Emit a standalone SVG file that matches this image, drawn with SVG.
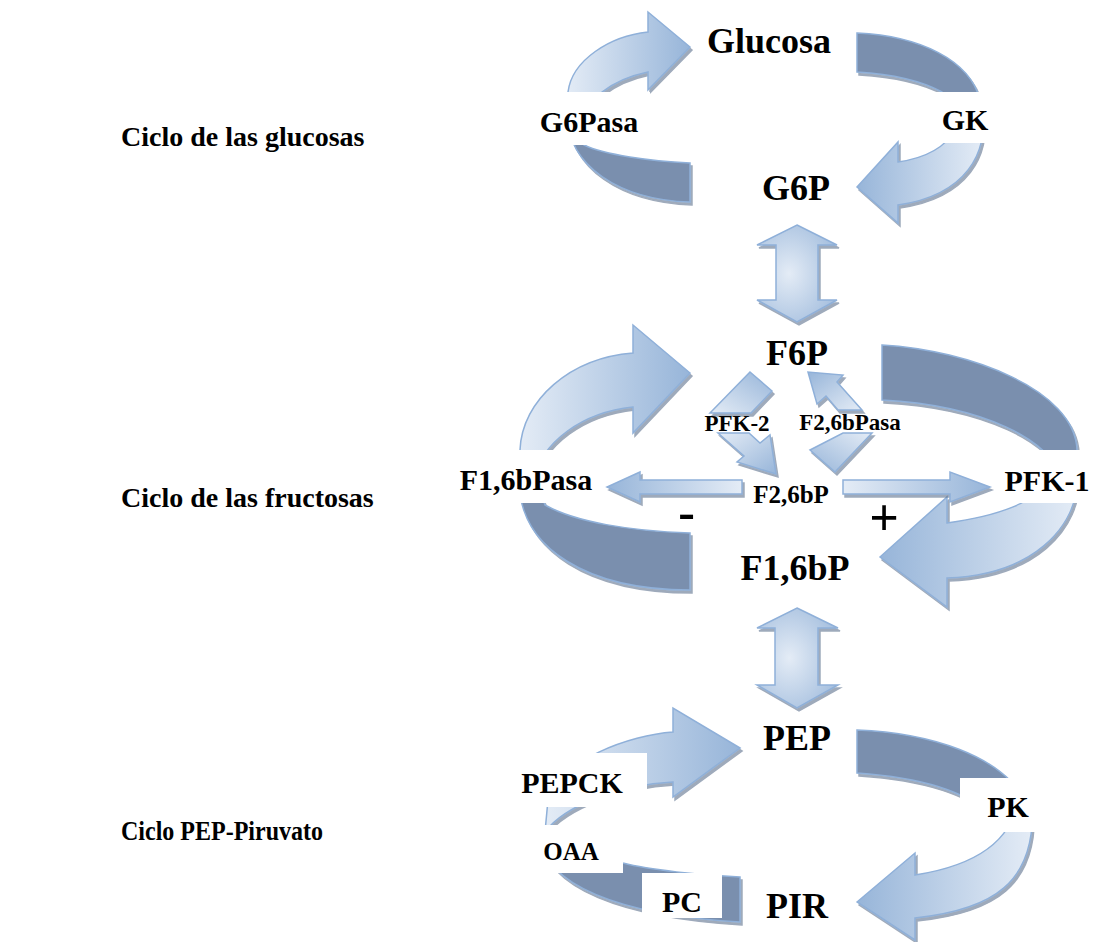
<svg xmlns="http://www.w3.org/2000/svg" width="1096" height="942" viewBox="0 0 1096 942">
<defs>
<linearGradient id="gR" x1="0" y1="0.5" x2="1" y2="0.5"><stop offset="0" stop-color="#e4ecf6"/><stop offset="1" stop-color="#97b5d9"/></linearGradient>
<linearGradient id="gL" x1="1" y1="0.5" x2="0" y2="0.5"><stop offset="0" stop-color="#e4ecf6"/><stop offset="1" stop-color="#97b5d9"/></linearGradient>
<linearGradient id="gDR" x1="0" y1="0" x2="1" y2="1"><stop offset="0" stop-color="#e4ecf6"/><stop offset="1" stop-color="#97b5d9"/></linearGradient>
<linearGradient id="gUL" x1="1" y1="1" x2="0" y2="0"><stop offset="0" stop-color="#e4ecf6"/><stop offset="1" stop-color="#97b5d9"/></linearGradient>
<linearGradient id="gDL" x1="1" y1="0" x2="0" y2="1"><stop offset="0" stop-color="#e4ecf6"/><stop offset="1" stop-color="#97b5d9"/></linearGradient>
<linearGradient id="gUR" x1="0" y1="1" x2="1" y2="0"><stop offset="0" stop-color="#e4ecf6"/><stop offset="1" stop-color="#97b5d9"/></linearGradient>
<radialGradient id="gRad" cx="0.4" cy="0.5" r="0.75"><stop offset="0" stop-color="#e4ecf6"/><stop offset="1" stop-color="#9ab7da"/></radialGradient>
<filter id="sh" x="-10%" y="-10%" width="130%" height="130%"><feDropShadow dx="2" dy="3" stdDeviation="0.7" flood-color="#4f6383" flood-opacity="0.55"/></filter>
</defs>
<style>
.a{stroke:#8fb0d9;stroke-width:1.5;stroke-linejoin:miter;filter:url(#sh)}
.d{fill:#7a8fae}
.box{fill:#ffffff}
text{font-family:"Liberation Serif","Times New Roman",serif;font-weight:bold;fill:#000}
.big{font-size:36px}
.lab{font-size:30px}
.sm{font-size:23px}
.side{font-size:28px}
</style>
<rect width="1096" height="942" fill="#ffffff"/>
<g id="connectors">
<!-- top cycle -->
<path class="a d" d="M568,115 C566,165 620,200 690,202 L690,163 C650,161 605,155 584,145 L580,115 Z"/>
<path class="a" fill="url(#gR)" d="M690,47 L648,12 L648,32 C610,36 572,60 568,92 L566,125 L580,125 C586,100 610,80 648,72 L648,90 Z"/>
<path class="a d" d="M857,33 C920,36 970,60 980,100 L982,125 L955,125 L942,92 C920,80 890,74 857,72 Z"/>
<path class="a" fill="url(#gL)" d="M857,187 L898,142 L898,162 C925,158 945,148 955,130 L960,115 L982,115 C988,150 968,195 898,205 L898,223 Z"/>
<!-- G6P <-> F6P -->
<path class="a" fill="url(#gRad)" d="M797,225 L837,245 L818,245 L818,300 L837,300 L797,322 L757,300 L776,300 L776,245 L757,245 Z"/>
<!-- middle cycle -->
<path class="a d" d="M519,478 C518,550 590,590 690,590 L690,533 C630,531 575,522 545,505 L535,478 Z"/>
<path class="a" fill="url(#gR)" d="M690,373 L633,325 L633,353 C570,358 522,400 520,450 L519,485 L532,485 C540,440 585,412 633,407 L633,433 Z"/>
<path class="a d" d="M882,345 C970,350 1075,390 1077,450 L1078,480 L1060,480 C1055,440 980,405 882,400 Z"/>
<path class="a" fill="url(#gL)" d="M880,557 L947,497 L947,523 C990,517 1040,505 1058,470 L1078,470 C1080,530 1030,575 947,578 L947,607 Z"/>
<!-- PFK-2 -->
<path class="a" fill="url(#gUR)" d="M750,372 L772,391 L751,413 L710,413 Z"/>
<path class="a" fill="url(#gDR)" d="M718,433 L749,433 L760,443 L770,435 L776,474 L737,462 L744,456 Z"/>
<!-- F2,6bPasa -->
<path class="a" fill="url(#gDL)" d="M843,433 L872,433 L835,472 L810,450 Z"/>
<path class="a" fill="url(#gUL)" d="M838,410 L826,396 L817,404 L808,372 L843,375 L837,382 L862,410 Z"/>
<!-- horizontal arrows -->
<path class="a" fill="url(#gL)" d="M742,480 L640,480 L640,472 L607,487 L640,502 L640,494 L742,494 Z"/>
<path class="a" fill="url(#gR)" d="M843,480 L950,480 L950,472 L990,487 L950,502 L950,494 L843,494 Z"/>
<!-- F1,6bP <-> PEP -->
<path class="a" fill="url(#gRad)" d="M797,608 L838,628 L818,628 L818,685 L838,685 L797,708 L757,685 L775,685 L775,628 L757,628 Z"/>
<!-- bottom cycle -->
<path class="a d" d="M540,835 C543,885 620,915 740,922 L740,877 C700,875 650,870 623,863 C595,855 570,845 558,830 Z"/>
<path class="a" fill="url(#gR)" d="M740,748 L673,708 L673,732 C630,735 560,760 548,800 L545,832 C565,805 620,785 673,782 L673,797 Z"/>
<path class="a d" d="M857,730 C930,733 1000,755 1025,800 L1030,815 L990,815 C970,795 930,778 857,773 Z"/>
<path class="a" fill="url(#gL)" d="M857,902 L915,853 L915,875 C960,868 1010,850 1018,800 L1032,800 C1038,885 990,910 915,918 L915,940 Z"/>
</g>
<g id="node-glucosa"><text class="big" x="769" y="53" text-anchor="middle">Glucosa</text></g>
<g id="node-g6pasa"><rect class="box" x="530" y="92" width="120" height="53"/><text class="lab" x="589" y="132" text-anchor="middle">G6Pasa</text></g>
<g id="node-gk"><rect class="box" x="935" y="92" width="65" height="51"/><text class="lab" x="965" y="130" text-anchor="middle">GK</text></g>
<g id="node-g6p"><text class="big" x="796" y="200" text-anchor="middle">G6P</text></g>
<g id="node-f6p"><text class="big" x="797" y="365" text-anchor="middle">F6P</text></g>
<g id="node-pfk2"><text class="sm" x="737" y="431" text-anchor="middle">PFK-2</text></g>
<g id="node-f26bpasa"><text class="sm" x="850" y="430" text-anchor="middle">F2,6bPasa</text></g>
<g id="node-f16bpasa"><rect class="box" x="452" y="450" width="148" height="53"/><text class="lab" x="526" y="490" text-anchor="middle">F1,6bPasa</text></g>
<g id="node-f26bp"><text x="791" y="503" text-anchor="middle" font-size="25">F2,6bP</text></g>
<g id="node-pfk1"><rect class="box" x="1000" y="450" width="96" height="53"/><text class="lab" x="1047" y="491" text-anchor="middle">PFK-1</text></g>
<g id="sign-minus"><text x="686.5" y="529" text-anchor="middle" font-size="50">-</text></g>
<g id="sign-plus"><text x="884" y="535" text-anchor="middle" font-size="52" font-weight="normal">+</text></g>
<g id="node-f16bp"><text class="big" x="795" y="580" text-anchor="middle">F1,6bP</text></g>
<g id="node-pep"><text class="big" x="797" y="750" text-anchor="middle">PEP</text></g>
<g id="node-pepck"><rect class="box" x="512" y="753" width="135" height="54"/><text class="lab" x="572" y="793" text-anchor="middle">PEPCK</text></g>
<g id="node-pk"><rect class="box" x="960" y="778" width="80" height="54"/><text class="lab" x="1008" y="817" text-anchor="middle">PK</text></g>
<g id="node-oaa"><rect class="box" x="533" y="825" width="90" height="48"/><text x="571" y="860" text-anchor="middle" font-size="25">OAA</text></g>
<g id="node-pc"><rect class="box" x="642" y="873" width="80" height="45"/><text class="lab" x="682" y="912" text-anchor="middle">PC</text></g>
<g id="node-pir"><text class="big" x="797" y="918" text-anchor="middle">PIR</text></g>
<g id="side-labels">
<text class="side" x="121" y="146">Ciclo de las glucosas</text>
<text class="side" x="121" y="507">Ciclo de las fructosas</text>
<text class="side" x="121" y="840" textLength="202" lengthAdjust="spacingAndGlyphs">Ciclo PEP-Piruvato</text>
</g>
</svg>
